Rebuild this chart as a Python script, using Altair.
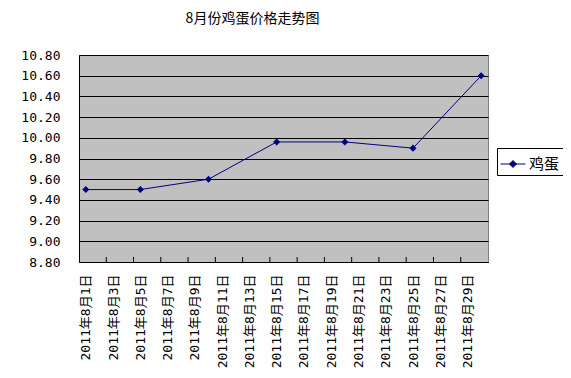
import json
import altair as alt
import pandas as pd

title_text = "8月份鸡蛋价格走势图"
series_name = "鸡蛋"
days = [1, 5, 10, 15, 20, 25, 30]
prices = [9.50, 9.50, 9.60, 9.96, 9.96, 9.90, 10.60]
y_ticks = [8.8, 9.0, 9.2, 9.4, 9.6, 9.8, 10.0, 10.2, 10.4, 10.6, 10.8]
x_labels = [
    "2011年8月1日", "2011年8月3日", "2011年8月5日", "2011年8月7日",
    "2011年8月9日", "2011年8月11日", "2011年8月13日", "2011年8月15日",
    "2011年8月17日", "2011年8月19日", "2011年8月21日", "2011年8月23日",
    "2011年8月25日", "2011年8月27日", "2011年8月29日",
]
n_days = 30

W, H = 409, 207
FONT = "DejaVu Sans Mono, Noto Sans CJK SC"
CJK = "Noto Sans CJK SC"
NAVY = "#000080"

df = pd.DataFrame({"day": days, "price": prices, "series": series_name})
tick_df = pd.DataFrame({"b": list(range(2, n_days, 2))})

x_scale = alt.Scale(domain=[0, n_days], nice=False, zero=False)
y_scale = alt.Scale(domain=[y_ticks[0], y_ticks[-1]], nice=False, zero=False)

label_values = [2 * i + 0.5 for i in range(len(x_labels))]
label_expr = json.dumps(x_labels, ensure_ascii=False) + "[floor(datum.value / 2)]"

x_axis = alt.Axis(
    values=label_values, labelExpr=label_expr, labelAngle=270, ticks=False,
    grid=False, title=None, labelFont=FONT, labelFontSize=13, labelPadding=12,
    domainColor="black", labelColor="black", labelOverlap=False,
    labelFlush=False, labelBound=False,
)
y_axis = alt.Axis(
    values=y_ticks, format=".2f", ticks=False, grid=True, gridColor="black",
    gridWidth=1, title=None, labelFont=FONT, labelFontSize=13, labelPadding=19,
    domainColor="black", labelColor="black", labelOverlap=False,
    labelFlush=False, labelBound=False,
)

base = alt.Chart(df).transform_calculate(xpos="datum.day - 0.5")

line = base.mark_line(color=NAVY, strokeWidth=1).encode(
    x=alt.X("xpos:Q", scale=x_scale, axis=x_axis),
    y=alt.Y("price:Q", scale=y_scale, axis=y_axis),
)

points = base.mark_point(shape="diamond", filled=True, size=50, opacity=1).encode(
    x=alt.X("xpos:Q", scale=x_scale, axis=x_axis),
    y=alt.Y("price:Q", scale=y_scale, axis=y_axis),
    color=alt.Color(
        "series:N",
        scale=alt.Scale(range=[NAVY]),
        legend=alt.Legend(
            title=None, orient="none", legendX=418, legendY=93,
            strokeColor="black", fillColor="white", padding=3, cornerRadius=0,
            symbolType="M-1,0L1,0M-0.28,0L0,-0.28L0.28,0L0,0.28Z",
            symbolSize=625, symbolStrokeColor=NAVY, symbolFillColor=NAVY,
            symbolStrokeWidth=1, labelFont=CJK, labelFontSize=15,
            labelColor="black", labelOffset=3,
        ),
    ),
)

ticks = alt.Chart(tick_df).mark_rule(color="black").encode(
    x=alt.X("b:Q", scale=x_scale, axis=x_axis),
    y=alt.value(H),
    y2=alt.value(H - 5),
)

chart = (
    alt.layer(line, points, ticks)
    .properties(
        width=W, height=H,
        title=alt.TitleParams(
            title_text, font=CJK, fontSize=14, fontWeight="normal",
            color="black", anchor="middle", dx=-31, offset=23,
        ),
        autosize=alt.AutoSizeParams(type="none"),
        padding={"left": 71, "top": 47, "right": 75, "bottom": 108},
        background="white",
    )
    .configure_axis(labelOverlap=False)
    .configure_view(fill="#C0C0C0", stroke="#808080", strokeWidth=1)
)

chart.save("out.html", embed_options={"renderer": "svg", "actions": False})
